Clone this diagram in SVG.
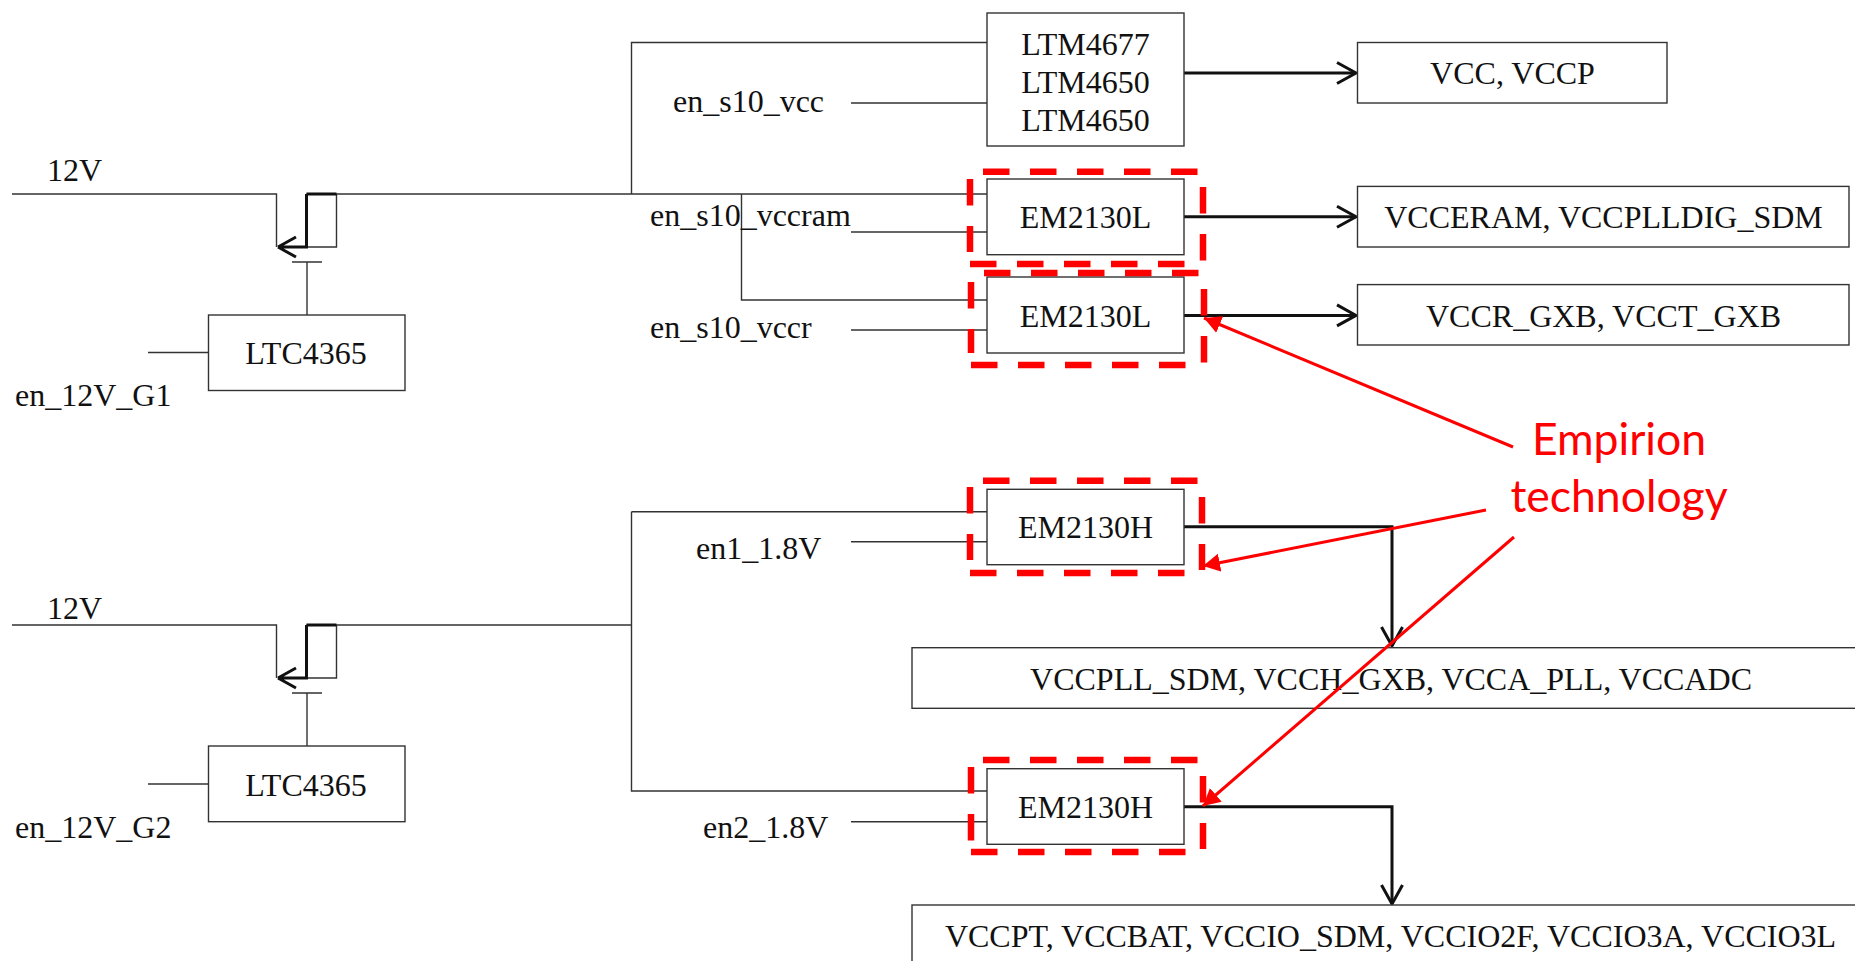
<svg xmlns="http://www.w3.org/2000/svg" width="1855" height="961" viewBox="0 0 1855 961">
<style>
.w{fill:none;stroke:#333;stroke-width:1.4}
.o{fill:none;stroke:#111;stroke-width:3}
.b{fill:#fff;stroke:#333;stroke-width:1.4}
.t{font-family:"Liberation Serif","Times New Roman",serif;font-size:32px;fill:#111}
.m{text-anchor:middle}
.d{fill:none;stroke:#f00;stroke-width:6.5;stroke-dasharray:26.500 20.500}
.r{fill:none;stroke:#f00;stroke-width:3}
.e{font-family:Lato,"Open Sans",sans-serif;font-size:44.500px;fill:#f00;text-anchor:middle}
</style>
<defs>
<marker id="oa" markerUnits="userSpaceOnUse" markerWidth="26" markerHeight="30" refX="21" refY="14" orient="auto"><path d="M2 3.500L21 14L2 24.500" fill="none" stroke="#111" stroke-width="3"/></marker>
<marker id="ra" markerUnits="userSpaceOnUse" markerWidth="20" markerHeight="20" refX="17" refY="9" orient="auto"><path d="M0 0L17 9L0 18Z" fill="#f00"/></marker>
</defs>
<g id="connectors">
<path class="w" d="M12 194H276.500V247M306.500 194H336.500V247H306.500M336.500 194H631.500M631.500 194V42.500H987M631.500 194H987M741.500 194V300H987M851 103H987M851 232H987M851 330H987"/>
<path class="o" d="M306.500 194V247H278M278 247L296 237M278 247L296 257M306.500 194H336.500"/>
<path class="w" d="M292 262H322M307 262V315M148 352.500H208.500"/>
<path class="w" d="M12 625H276.500V678M306.500 625H336.500V678H306.500M336.500 625H631.500M631.500 511.700V791H987M631.500 511.700H987M851 541.700H987M851 821.700H987"/>
<path class="o" d="M306.500 625V678H278M278 678L296 668M278 678L296 688M306.500 625H336.500"/>
<path class="w" d="M292 693H322M307 693V746M148 784H208.500"/>
<path class="o" marker-end="url(#oa)" d="M1184 73H1356"/>
<path class="o" marker-end="url(#oa)" d="M1184 216.800H1356"/>
<path class="o" marker-end="url(#oa)" d="M1184 315.400H1356"/>
<path class="o" marker-end="url(#oa)" d="M1184 526.700H1392V646"/>
<path class="o" marker-end="url(#oa)" d="M1184 806.700H1392V904"/>
</g>
<g id="n-ltc1"><rect class="b" x="208.500" y="315" width="196.500" height="75.500"/><text class="t m" x="306" y="364">LTC4365</text></g>
<g id="n-ltc2"><rect class="b" x="208.500" y="746" width="196.500" height="75.700"/><text class="t m" x="306" y="796">LTC4365</text></g>
<g id="n-ltm"><rect class="b" x="987" y="13" width="197" height="133"/><text class="t m" x="1085.500" y="55">LTM4677</text><text class="t m" x="1085.500" y="93">LTM4650</text><text class="t m" x="1085.500" y="130.500">LTM4650</text></g>
<g id="n-em1"><rect class="b" x="987" y="179" width="197" height="75.700"/><text class="t m" x="1085.500" y="227.500">EM2130L</text></g>
<g id="n-em2"><rect class="b" x="987" y="277" width="197" height="76"/><text class="t m" x="1085.500" y="326.500">EM2130L</text></g>
<g id="n-em3"><rect class="b" x="987" y="489.300" width="197" height="75.400"/><text class="t m" x="1085.500" y="538">EM2130H</text></g>
<g id="n-em4"><rect class="b" x="987" y="768.700" width="197" height="75.600"/><text class="t m" x="1085.500" y="818">EM2130H</text></g>
<g id="n-out1"><rect class="b" x="1357.500" y="42.500" width="309.500" height="60.500"/><text class="t m" x="1512.500" y="84">VCC, VCCP</text></g>
<g id="n-out2"><rect class="b" x="1357.500" y="186.400" width="491.500" height="60.600"/><text class="t m" x="1603.500" y="227.500">VCCERAM, VCCPLLDIG_SDM</text></g>
<g id="n-out3"><rect class="b" x="1357.500" y="284.600" width="491.500" height="60.400"/><text class="t m" x="1603.500" y="327">VCCR_GXB, VCCT_GXB</text></g>
<g id="n-out4"><rect class="b" x="912" y="647.700" width="950" height="60.600"/><text class="t m" x="1391" y="690">VCCPLL_SDM, VCCH_GXB, VCCA_PLL, VCCADC</text></g>
<g id="n-out5"><rect class="b" x="912" y="905" width="950" height="70"/><text class="t m" x="1390.500" y="947">VCCPT, VCCBAT, VCCIO_SDM, VCCIO2F, VCCIO3A, VCCIO3L</text></g>
<g id="labels">
<text class="t" x="47" y="181">12V</text>
<text class="t" x="47" y="619">12V</text>
<text class="t" x="15" y="406">en_12V_G1</text>
<text class="t" x="15" y="838">en_12V_G2</text>
<text class="t" x="673" y="112">en_s10_vcc</text>
<text class="t" x="650" y="226">en_s10_vccram</text>
<text class="t" x="650" y="338">en_s10_vccr</text>
<text class="t" x="696" y="558.700">en1_1.8V</text>
<text class="t" x="703" y="838">en2_1.8V</text>
</g>
<g id="highlights">
<path class="d" d="M983 171.700H1198M1203 187V261M970 264H1185M970 179V252"/>
<path class="d" d="M984 273H1199M1204 289V363M971 365H1186M971 282V353"/>
<path class="d" d="M983 480.700H1198M1202 497V570M970 573H1185M970 487V560"/>
<path class="d" d="M983 760H1198M1203 776V849M971 852H1186M971 767V841"/>
</g>
<g id="callout">
<path class="r" marker-end="url(#ra)" d="M1513 447L1204 318"/>
<path class="r" marker-end="url(#ra)" d="M1486 510L1203 566"/>
<path class="r" marker-end="url(#ra)" d="M1514 537L1203 806"/>
<text class="e" x="1619" y="455">Empirion</text>
<text class="e" x="1619" y="512">technology</text>
</g>
</svg>
